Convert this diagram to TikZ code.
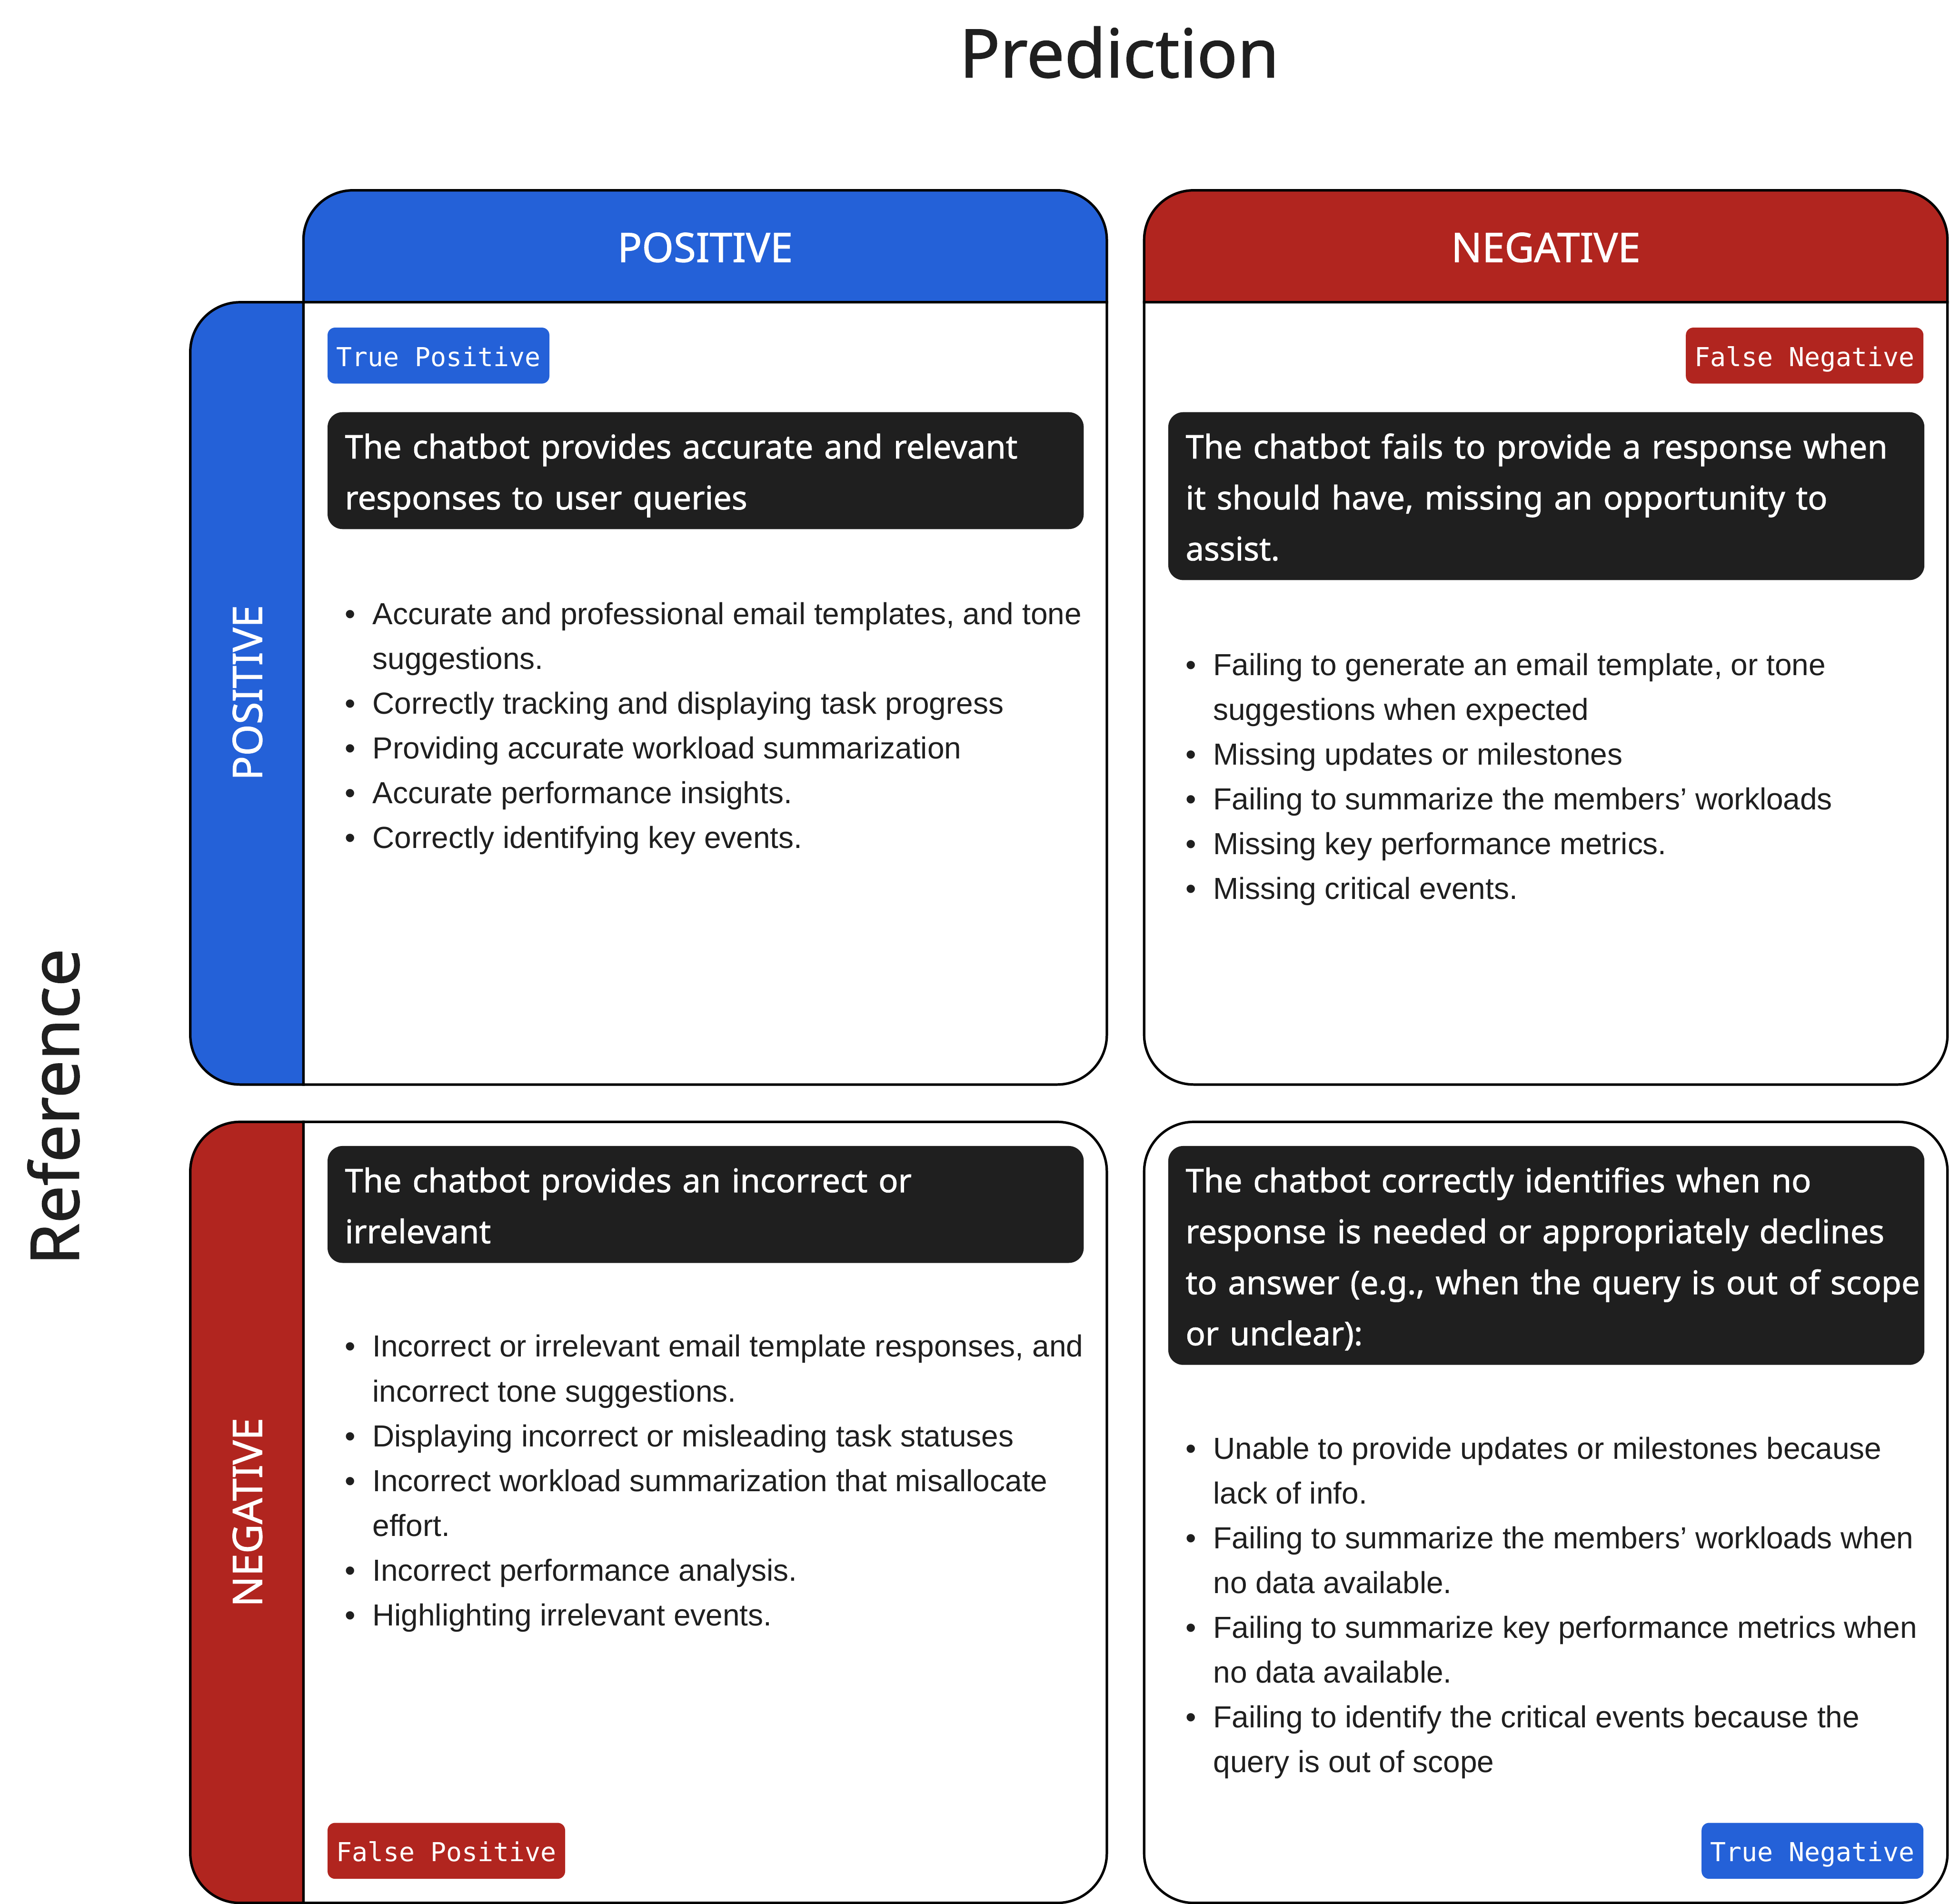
\documentclass[tikz,border=0pt]{standalone}
\usepackage{fontspec}
\setmainfont{Noto Sans}
\setmonofont{DejaVu Sans Mono}
\newfontfamily\heavyfont[FakeBold=1.2]{Noto Sans}
\newfontfamily\itemfont{Liberation Sans}
\usetikzlibrary{positioning}
\definecolor{posblue}{HTML}{2461D8}
\definecolor{negred}{HTML}{B1251F}
\definecolor{inkblack}{HTML}{1F1F1F}
\newcommand{\itemrows}[1]{\begin{tabular}[t]{@{}l@{\hspace{6.8pt}}l@{}}#1\end{tabular}}
\newcommand{\claimrows}[1]{\begin{tabular}{@{}l@{}}\rule{0pt}{16.85pt}#1\end{tabular}}

\begin{document}
\begin{tikzpicture}[x=0.5pt, y=-0.5pt,
  every node/.style={inner sep=0pt},
  frame/.style={draw=black, line width=1pt},
  hdrtext/.style={text=white, font=\heavyfont\fontsize{16.3}{20}\selectfont},
  axistext/.style={text=inkblack, font=\heavyfont\fontsize{27}{32}\selectfont},
  tagbox/.style={rectangle, rounded corners=3pt, fill=#1, text=white, inner xsep=3.5pt,
    minimum height=22.5pt, text height=9.3pt, text depth=0.7pt, font=\ttfamily\fontsize{10.5}{12}\selectfont},
  claim/.style={rectangle, rounded corners=6pt, fill=inkblack, text=white, text width=290pt,
    inner xsep=7pt, inner ysep=1.75pt, align=left, anchor=north west, font=\heavyfont\fontsize{13.1}{20.5}\selectfont},
  items/.style={anchor=base west, text=inkblack, font=\itemfont\fontsize{12.24}{18}\selectfont}]
\useasboundingbox (0,0) rectangle (1568,1530.5);

% column headers
\filldraw[frame, fill=posblue] (244,243) -- (244,193) arc[start angle=180, end angle=90, radius=20pt]
  -- (850,153) arc[start angle=90, end angle=0, radius=20pt] -- (890,243) -- cycle;
\filldraw[frame, fill=negred] (920,243) -- (920,193) arc[start angle=180, end angle=90, radius=20pt]
  -- (1526,153) arc[start angle=90, end angle=0, radius=20pt] -- (1566,243) -- cycle;
% row headers
\filldraw[frame, fill=posblue] (244,243) -- (193,243) arc[start angle=90, end angle=180, radius=20pt]
  -- (153,832) arc[start angle=180, end angle=270, radius=20pt] -- (244,872) -- cycle;
\filldraw[frame, fill=negred] (244,902) -- (193,902) arc[start angle=90, end angle=180, radius=20pt]
  -- (153,1490) arc[start angle=180, end angle=270, radius=20pt] -- (244,1530) -- cycle;
% cells
\filldraw[frame, fill=white] (244,243) -- (890,243) -- (890,832) arc[start angle=0, end angle=-90, radius=20pt]
  -- (244,872) -- cycle;
\filldraw[frame, fill=white] (920,243) -- (1566,243) -- (1566,832) arc[start angle=0, end angle=-90, radius=20pt]
  -- (960,872) arc[start angle=-90, end angle=-180, radius=20pt] -- cycle;
\filldraw[frame, fill=white] (244,902) -- (850,902) arc[start angle=90, end angle=0, radius=20pt]
  -- (890,1490) arc[start angle=0, end angle=-90, radius=20pt] -- (244,1530) -- cycle;
\filldraw[frame, fill=white, rounded corners=20pt] (920,902) rectangle (1566,1530);

% axis titles and headers
\node[axistext] (predTitle) at (900,42) {Prediction};
\node[axistext, rotate=90] (refTitle) at (43,890) {Reference};
\node[hdrtext] (colPos) at (567,199) {POSITIVE};
\node[hdrtext] (colNeg) at (1243,199) {NEGATIVE};
\node[hdrtext, rotate=90] (rowPos) at (199,557) {POSITIVE};
\node[hdrtext, rotate=90] (rowNeg) at (199,1216) {NEGATIVE};

% tags
\node[tagbox=posblue, anchor=north west] (tagTP) at (263,263) {True Positive};
\node[tagbox=negred, anchor=north east] (tagFN) at (1547,263) {False Negative};
\node[tagbox=negred, anchor=south west] (tagFP) at (263,1511) {False Positive};
\node[tagbox=posblue, anchor=south east] (tagTN) at (1547,1511) {True Negative};

% claims
\node[claim] (claimTP) at (263,331) {\claimrows{The chatbot provides accurate and relevant\\responses to user queries}};
\node[claim] (claimFN) at (939,331) {\claimrows{The chatbot fails to provide a response when\\it should have, missing an opportunity to\\assist.}};
\node[claim] (claimFP) at (263,921) {\claimrows{The chatbot provides an incorrect or\\irrelevant}};
\node[claim] (claimTN) at (939,921) {\claimrows{The chatbot correctly identifies when no\\response is needed or appropriately declines\\to answer (e.g., when the query is out of scope\\or unclear):}};

% examples
\node[items] (listTP) at (277,502) {\itemrows{
  \textbullet & Accurate and professional email templates, and tone\\
  & suggestions.\\
  \textbullet & Correctly tracking and displaying task progress\\
  \textbullet & Providing accurate workload summarization\\
  \textbullet & Accurate performance insights.\\
  \textbullet & Correctly identifying key events.}};
\node[items] (listFN) at (953,543) {\itemrows{
  \textbullet & Failing to generate an email template, or tone\\
  & suggestions when expected\\
  \textbullet & Missing updates or milestones\\
  \textbullet & Failing to summarize the members’ workloads\\
  \textbullet & Missing key performance metrics.\\
  \textbullet & Missing critical events.}};
\node[items] (listFP) at (277,1091) {\itemrows{
  \textbullet & Incorrect or irrelevant email template responses, and\\
  & incorrect tone suggestions.\\
  \textbullet & Displaying incorrect or misleading task statuses\\
  \textbullet & Incorrect workload summarization that misallocate\\
  & effort.\\
  \textbullet & Incorrect performance analysis.\\
  \textbullet & Highlighting irrelevant events.}};
\node[items] (listTN) at (953,1173) {\itemrows{
  \textbullet & Unable to provide updates or milestones because\\
  & lack of info.\\
  \textbullet & Failing to summarize the members’ workloads when\\
  & no data available.\\
  \textbullet & Failing to summarize key performance metrics when\\
  & no data available.\\
  \textbullet & Failing to identify the critical events because the\\
  & query is out of scope}};
\end{tikzpicture}
\end{document}
